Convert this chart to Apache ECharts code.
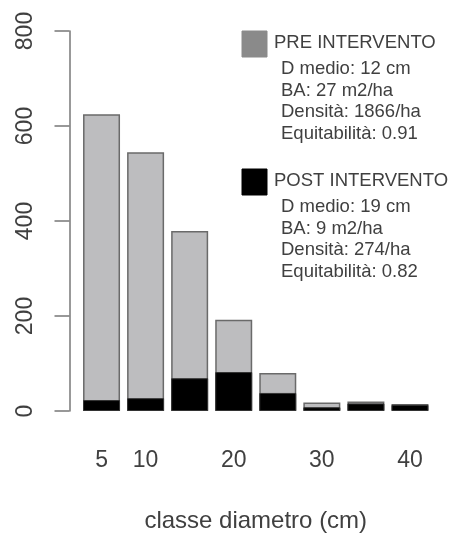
<!DOCTYPE html>
<html>
<head>
<meta charset="utf-8">
<script src="https://cdn.jsdelivr.net/npm/echarts@6/dist/echarts.min.js"></script>
<style>
  html, body { margin: 0; padding: 0; background: #fff; }
  #chart { width: 457px; height: 533px; }
</style>
</head>
<body>
<div id="chart"></div>
<script>
// classi di diametro (cm)
const classi = ['5', '10', '15', '20', '25', '30', '35', '40']
const etichetteVisibili = ['5', '10', '20', '30', '40']
// alberi/ha per classe
const preIntervento = [625, 545, 379, 192, 80, 18, 20, 15]
const postIntervento = [23, 27, 69, 82, 38, 8, 16, 13]
const yTicks = [0, 200, 400, 600, 800]

const legendaPre = ['PRE INTERVENTO', 'D medio: 12 cm', 'BA: 27 m2/ha', 'Densità: 1866/ha', 'Equitabilità: 0.91']
const legendaPost = ['POST INTERVENTO', 'D medio: 19 cm', 'BA: 9 m2/ha', 'Densità: 274/ha', 'Equitabilità: 0.82']

const FONT = 'Liberation Sans, Arial, sans-serif'
const TXT = '#404040'

function legendBlock(lines, top, color) {
  const els = [{
    type: 'rect',
    shape: { x: 242, y: top, width: 25, height: 26 },
    style: { fill: color, stroke: color }
  }]
  lines.forEach((t, i) => {
    els.push({
      type: 'text',
      x: i === 0 ? 274 : 281,
      y: top + 12 + (i === 0 ? 0 : 26 + (i - 1) * 21.5),
      style: { text: t, fill: TXT, font: '18.5px ' + FONT, verticalAlign: 'middle' }
    })
  })
  return els
}

const chart = echarts.init(document.getElementById('chart'), null, { renderer: 'canvas' })

chart.setOption({
  animation: false,
  textStyle: { fontFamily: FONT },
  grid: { left: 79.5, right: 25, top: 31, bottom: 122, outerBoundsMode: 'none', containLabel: false },
  xAxis: {
    type: 'category',
    data: classi,
    axisLine: { show: false },
    axisTick: { show: false },
    axisLabel: {
      interval: (i, v) => etichetteVisibili.includes(v),
      color: TXT,
      fontSize: 23,
      margin: 38
    },
    name: 'classe diametro (cm)',
    nameLocation: 'middle',
    nameGap: 98,
    nameTextStyle: { color: TXT, fontSize: 24 }
  },
  yAxis: {
    type: 'value',
    min: yTicks[0],
    max: yTicks[yTicks.length - 1],
    interval: 200,
    offset: 10,
    splitLine: { show: false },
    axisLine: { show: true, lineStyle: { color: '#777', width: 1.5 } },
    axisTick: { show: true, length: 15, lineStyle: { color: '#777', width: 1.5 } },
    axisLabel: {
      rotate: 90,
      color: TXT,
      fontSize: 23,
      margin: 44,
      verticalAlign: 'middle',
      align: 'center'
    }
  },
  series: [
    {
      name: 'PRE INTERVENTO',
      type: 'bar',
      data: preIntervento,
      barWidth: 37,
      barGap: '-100%',
      itemStyle: { color: '#bdbdbf', borderColor: '#6a6a6a', borderWidth: 1.5 }
    },
    {
      name: 'POST INTERVENTO',
      type: 'bar',
      data: postIntervento,
      barWidth: 37,
      barGap: '-100%',
      itemStyle: { color: '#000', borderColor: '#333', borderWidth: 1 }
    }
  ],
  graphic: [
    ...legendBlock(legendaPre, 31, '#8a8a8a'),
    ...legendBlock(legendaPost, 169, '#000')
  ]
})
</script>
</body>
</html>
